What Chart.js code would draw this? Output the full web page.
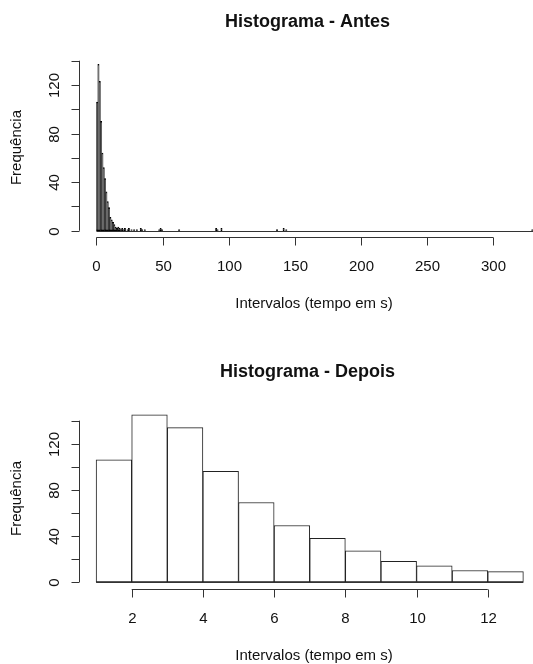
<!DOCTYPE html>
<html>
<head>
<meta charset="utf-8">
<title>Histogramas</title>
<script src="https://cdn.jsdelivr.net/npm/chart.js@4.4.0/dist/chart.umd.min.js"></script>
<style>
    html, body { margin: 0; padding: 0; background: #fff; overflow: hidden; }
    .wrap { position: absolute; left: 0; width: 533px; height: 332px; }
</style>
</head>
<body>
<div class="wrap" style="top:0"><canvas id="antesChart" width="533" height="332"></canvas></div>
<div class="wrap" style="top:332px"><canvas id="depoisChart" width="533" height="332"></canvas></div>
<script>
// Histograma - Antes: inicio de cada classe (largura 1 s) e frequencia
const antesBins = [0, 1, 2, 3, 4, 5, 6, 7, 8, 9, 10, 11, 12, 13, 14, 15, 16, 17, 18, 19, 20, 21,
    23, 24, 26, 28, 30, 33, 34, 36, 47, 48, 49, 62, 90, 91, 94, 136, 141, 143, 329];
const antesCounts = [106, 137, 123, 90, 64, 52, 43, 32, 24, 19, 11, 9, 7, 5, 3, 2, 3, 2, 1, 2, 1, 2,
    1, 2, 1, 1, 1, 2, 1, 1, 1, 2, 1, 1, 2, 1, 2, 1, 2, 1, 1];
const antesRange = [0, 330];
const antesTicksX = [0, 50, 100, 150, 200, 250, 300];

// Histograma - Depois
const depoisBins = [1, 2, 3, 4, 5, 6, 7, 8, 9, 10, 11, 12];
const depoisCounts = [106, 145, 134, 96, 69, 49, 38, 27, 18, 14, 10, 9];
const depoisRange = [1, 13];
const depoisTicksX = [2, 4, 6, 8, 10, 12];

const freqTicks = [0, 20, 40, 60, 80, 100, 120, 140];
const freqLabels = [0, 40, 80, 120];

const FONT = '"Liberation Sans", Arial, Helvetica, sans-serif';

function line(ctx, x1, y1, x2, y2) {
    ctx.beginPath();
    ctx.moveTo(x1, y1);
    ctx.lineTo(x2, y2);
    ctx.stroke();
}

// eixos no estilo do R (linha so entre o primeiro e o ultimo tick)
const rAxes = {
    id: 'rAxes',
    afterDraw(chart, args, opts) {
        const { ctx, chartArea } = chart;
        const x = chart.scales.x, y = chart.scales.y;
        const bottom = Math.round(chartArea.bottom) + 0.5;
        const left = Math.round(chartArea.left) + 0.5;
        ctx.save();
        ctx.strokeStyle = '#333';
        ctx.lineWidth = 1;

        // linha de base das classes (inclui as vazias)
        const y0 = Math.round(y.getPixelForValue(0)) + 0.5;
        line(ctx, x.getPixelForValue(opts.range[0]), y0, x.getPixelForValue(opts.range[1]), y0);

        // eixo x
        const xt = opts.xTicks;
        line(ctx, x.getPixelForValue(xt[0]), bottom, x.getPixelForValue(xt[xt.length - 1]), bottom);
        ctx.fillStyle = '#111';
        ctx.font = '15px ' + FONT;
        ctx.textAlign = 'center';
        ctx.textBaseline = 'alphabetic';
        xt.forEach(v => {
            const px = Math.round(x.getPixelForValue(v)) + 0.5;
            line(ctx, px, bottom, px, bottom + 8);
            ctx.fillText(String(v), px, bottom + 33.5);
        });

        // eixo y
        line(ctx, left, y.getPixelForValue(freqTicks[0]), left, y.getPixelForValue(freqTicks[freqTicks.length - 1]));
        freqTicks.forEach(v => {
            const py = Math.round(y.getPixelForValue(v)) + 0.5;
            line(ctx, left, py, left - 8, py);
            if (freqLabels.includes(v)) {
                ctx.save();
                ctx.translate(left - 20.5, py);
                ctx.rotate(-Math.PI / 2);
                ctx.fillText(String(v), 0, 0);
                ctx.restore();
            }
        });

        // titulos
        ctx.font = '15px ' + FONT;
        ctx.fillText('Intervalos (tempo em s)', 314, bottom + 70);
        ctx.save();
        ctx.translate(21, (chartArea.top + chartArea.bottom) / 2);
        ctx.rotate(-Math.PI / 2);
        ctx.fillText('Frequência', 0, 0);
        ctx.restore();

        ctx.font = 'bold 18px ' + FONT;
        ctx.fillText(opts.title, 307.5, chartArea.top - 31);
        ctx.restore();
    }
};

function makeHistogram(canvasId, bins, counts, cfg) {
    const ctx = document.getElementById(canvasId).getContext('2d');
    return new Chart(ctx, {
        type: 'bar',
        data: {
            datasets: [{
                data: bins.map((b, i) => ({ x: b + 0.5, y: counts[i] })),
                backgroundColor: cfg.barFill,
                borderColor: cfg.barLine,
                borderWidth: 1,
                borderSkipped: false,
                barPercentage: 1,
                categoryPercentage: 1
            }]
        },
        options: {
            responsive: false,
            animation: false,
            devicePixelRatio: 1,
            layout: { padding: cfg.padding },
            plugins: {
                legend: { display: false },
                tooltip: { enabled: false },
                rAxes: { title: cfg.title, xTicks: cfg.xTicks, range: cfg.range }
            },
            scales: {
                x: { type: 'linear', display: false, offset: false, min: cfg.xMin, max: cfg.xMax },
                y: { display: false, min: cfg.yMin, max: cfg.yMax }
            }
        },
        plugins: [rAxes]
    });
}

// barras de 1 s ficam com ~1,3 px: no original so se ve o contorno escuro
makeHistogram('antesChart', antesBins, antesCounts, {
    title: 'Histograma - Antes',
    xTicks: antesTicksX,
    range: antesRange,
    barLine: '#000',
    barFill: '#555',
    xMin: -13.2, xMax: 330,
    yMin: -5.5, yMax: 142.5,
    padding: { left: 79, right: 0, top: 57.7, bottom: 94.6 }
});

makeHistogram('depoisChart', depoisBins, depoisCounts, {
    title: 'Histograma - Depois',
    xTicks: depoisTicksX,
    range: depoisRange,
    barLine: '#222',
    barFill: '#ffffff',
    xMin: 0.52, xMax: 13.27,
    yMin: -5.8, yMax: 150.8,
    padding: { left: 79, right: 0, top: 76.2, bottom: 75.3 }
});
</script>
</body>
</html>
